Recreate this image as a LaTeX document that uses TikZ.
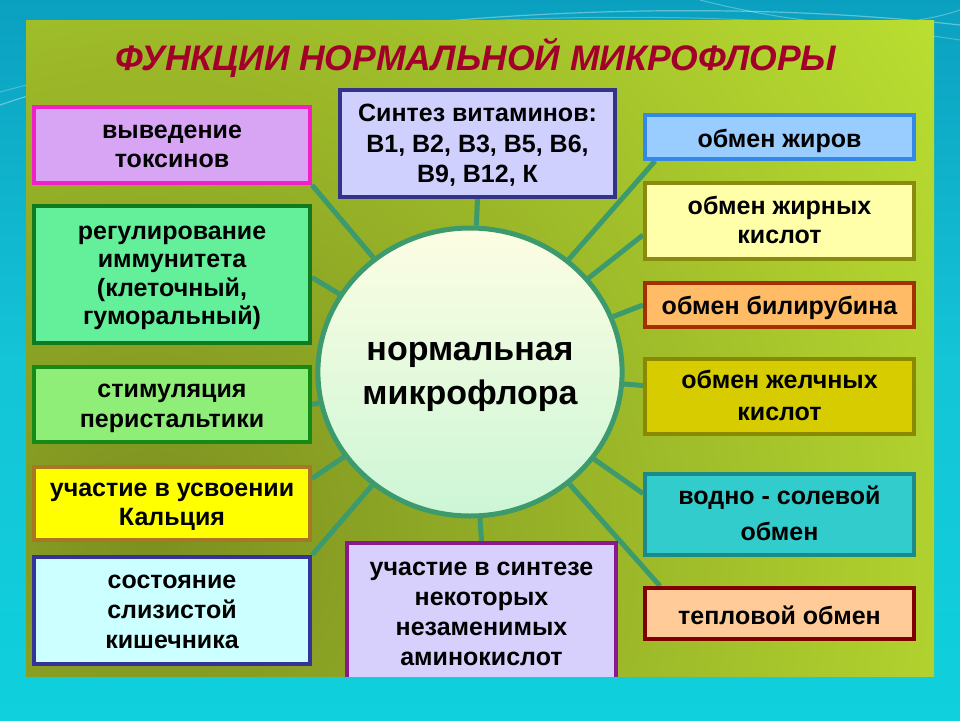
\documentclass[tikz,border=0pt]{standalone}
\usepackage{tikz}
\usepackage{fontspec}
\setmainfont{Liberation Sans}
\usetikzlibrary{shapes.geometric,calc}
\pgfdeclarelayer{bg}
\pgfdeclarelayer{conn}
\pgfsetlayers{bg,conn,main}
\definecolor{bgtop}{HTML}{0BA0C0}
\definecolor{bgmid}{HTML}{14C4D7}
\definecolor{bgbot}{HTML}{0FD0DC}
\definecolor{paneldark}{HTML}{7C9020}
\definecolor{panellight}{HTML}{BEE332}
\definecolor{titlered}{HTML}{A2002A}
\definecolor{linegreen}{HTML}{3D9A6C}
\definecolor{circtop}{HTML}{FDFDE3}
\definecolor{circbot}{HTML}{CCF6D6}
\definecolor{fvyv}{HTML}{D8A4F4}\definecolor{dvyv}{HTML}{F21EC8}
\definecolor{freg}{HTML}{64F09A}\definecolor{dreg}{HTML}{127A1E}
\definecolor{fstim}{HTML}{8EEE78}\definecolor{dstim}{HTML}{168A16}
\definecolor{fkal}{HTML}{FFFF00}\definecolor{dkal}{HTML}{A87820}
\definecolor{fsos}{HTML}{CCFFFF}\definecolor{dsos}{HTML}{333399}
\definecolor{fsyn}{HTML}{D0D0FF}\definecolor{dsyn}{HTML}{333388}
\definecolor{fami}{HTML}{D8D0FC}\definecolor{dami}{HTML}{8A1890}
\definecolor{fzhir}{HTML}{99CCFF}\definecolor{dzhir}{HTML}{3388E8}
\definecolor{fzhk}{HTML}{FFFFAA}\definecolor{dzhk}{HTML}{8A8A10}
\definecolor{fbil}{HTML}{FFBB66}\definecolor{dbil}{HTML}{A33000}
\definecolor{fzhel}{HTML}{D6CC00}\definecolor{dzhel}{HTML}{8A8A00}
\definecolor{fvod}{HTML}{33CCCC}\definecolor{dvod}{HTML}{1A8A8A}
\definecolor{ftep}{HTML}{FFCC99}\definecolor{dtep}{HTML}{800000}
\newcommand\boxfont[1]{\fontsize{25}{#1}\selectfont\bfseries}
\newcommand\mytopst[1][21pt]{\rule{0pt}{#1}}
\newcommand\mybotst{\rule[-6pt]{0pt}{6pt}}
\begin{document}
\begin{tikzpicture}[x=1pt,y=-1pt,
  fbox/.style={rectangle,draw,line width=4pt,inner sep=0pt,align=center,text=black},
  conn/.style={draw=linegreen,line width=5pt}]
\useasboundingbox (0,0) rectangle (960,720);
\begin{pgfonlayer}{bg}
  \shade[top color=bgtop, bottom color=bgbot, middle color=bgmid] (0,0) rectangle (960,720);
  \draw[white,opacity=0.35,line width=1.2pt] (0,105) .. controls (250,20) and (650,-10) .. (960,25);
  \draw[white,opacity=0.25,line width=1pt] (0,92) .. controls (300,10) and (700,0) .. (960,40);
  \draw[white,opacity=0.3,line width=1pt] (700,0) .. controls (820,30) and (900,30) .. (960,10);
  \begin{scope}
    \clip (26,20) rectangle (934,676);
    \shade[inner color=paneldark, outer color=panellight] (150,540) circle (1000);
  \end{scope}
\end{pgfonlayer}

\node[font=\fontsize{35.5}{40}\selectfont\bfseries\itshape, text=titlered, anchor=base] (title) at (476,70) {ФУНКЦИИ НОРМАЛЬНОЙ МИКРОФЛОРЫ};

\node[ellipse, draw=linegreen, line width=5pt, top color=circtop, bottom color=circbot,
      minimum width=276, minimum height=288, inner sep=0pt, align=center,
      font=\fontsize{34}{44}\selectfont\bfseries] (circ) at (470,372) {\rule{0pt}{28pt}нормальная\\микрофлора\rule[-8pt]{0pt}{8pt}};

% left column
\node[fbox, fill=fvyv, draw=dvyv, minimum width=276, minimum height=76, font=\boxfont{29}] (vyv) at (172,145) {\mytopst выведение\\токсинов\mybotst};
\node[fbox, fill=freg, draw=dreg, minimum width=276, minimum height=137, font=\boxfont{28.5}] (reg) at (172,274.5) {\mytopst регулирование\\иммунитета\\(клеточный,\\гуморальный)\mybotst};
\node[fbox, fill=fstim, draw=dstim, minimum width=276, minimum height=75, font=\boxfont{30}] (stim) at (172,404.5) {\mytopst стимуляция\\перистальтики\mybotst};
\node[fbox, fill=fkal, draw=dkal, minimum width=276, minimum height=73, font=\boxfont{29}] (kal) at (172,503.5) {\mytopst участие в усвоении\\Кальция\mybotst};
\node[fbox, fill=fsos, draw=dsos, minimum width=276, minimum height=107, font=\boxfont{30}] (sos) at (172,610.5) {\mytopst состояние\\слизистой\\кишечника\mybotst};

% centre column
\node[fbox, fill=fsyn, draw=dsyn, minimum width=275, minimum height=107, font=\boxfont{30.5}] (syn) at (477.5,143.5) {\mytopst[23pt]Синтез витаминов:\\В1, В2, В3, В5, В6,\\В9, В12, К\mybotst};
\begin{scope}
  \clip (0,0) rectangle (960,676);
  \node[fbox, fill=fami, draw=dami, minimum width=269, minimum height=160] (ami) at (481.5,623) {};
\end{scope}
\node[align=center, font=\boxfont{30}, inner sep=0pt] (amit) at (481.5,612.5) {\mytopst участие в синтезе\\некоторых\\незаменимых\\аминокислот\mybotst};

% right column
\node[fbox, fill=fzhir, draw=dzhir, minimum width=269, minimum height=44, font=\boxfont{30}] (zhir) at (779.5,137) {\mytopst[26pt]обмен жиров\mybotst};
\node[fbox, fill=fzhk, draw=dzhk, minimum width=269, minimum height=76, font=\boxfont{29}] (zhk) at (779.5,221) {\mytopst обмен жирных\\кислот\mybotst};
\node[fbox, fill=fbil, draw=dbil, minimum width=269, minimum height=44, font=\boxfont{30}] (bil) at (779.5,305) {\mytopst[24pt]обмен билирубина\mybotst};
\node[fbox, fill=fzhel, draw=dzhel, minimum width=269, minimum height=75, font=\boxfont{32}] (zhel) at (779.5,396.5) {\mytopst обмен желчных\\кислот\mybotst};
\node[fbox, fill=fvod, draw=dvod, minimum width=269, minimum height=81, font=\boxfont{36}] (vod) at (779.5,514.5) {\mytopst водно - солевой\\обмен\mybotst};
\node[fbox, fill=ftep, draw=dtep, minimum width=269, minimum height=51, font=\boxfont{30}] (tep) at (779.5,613.5) {\mytopst[28pt]тепловой обмен\mybotst};

\begin{pgfonlayer}{conn}
  \draw[conn] (circ) -- (syn.south);
  \draw[conn] (circ) -- (ami.north);
  \draw[conn] (circ) -- (vyv.south east);
  \draw[conn] (circ) -- ([yshift=-3pt]reg.east);
  \draw[conn] (circ) -- (stim.east);
  \draw[conn] (circ) -- ([yshift=25pt]kal.east);
  \draw[conn] (circ) -- (sos.north east);
  \draw[conn] (circ) -- ([xshift=12pt]zhir.south west);
  \draw[conn] (circ) -- ([yshift=-14pt]zhk.west);
  \draw[conn] (circ) -- (bil.west);
  \draw[conn] (circ) -- ([yshift=11pt]zhel.west);
  \draw[conn] (circ) -- ([yshift=21pt]vod.west);
  \draw[conn] (circ) -- ([xshift=17pt]tep.north west);
\end{pgfonlayer}
\end{tikzpicture}
\end{document}
